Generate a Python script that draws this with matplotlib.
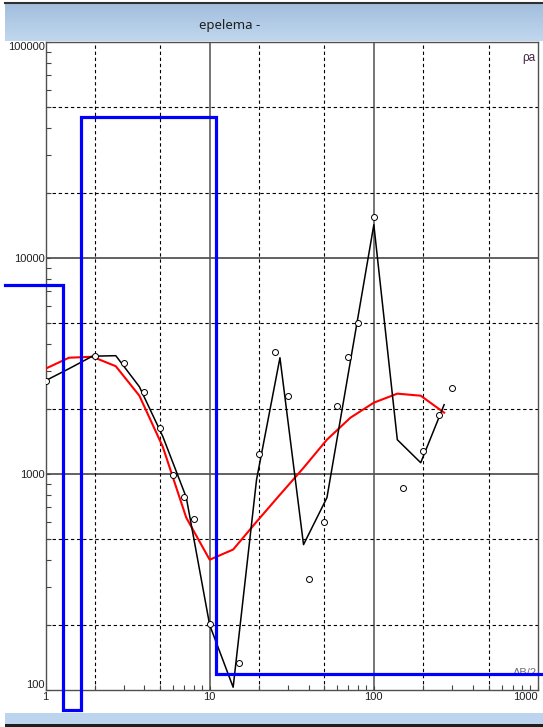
import numpy as np
import matplotlib
matplotlib.use("Agg")
import matplotlib.pyplot as plt
from matplotlib.patches import Rectangle
from matplotlib.ticker import FixedLocator, NullFormatter

# --- data ---
ab2_obs = [1, 2, 3, 4, 5, 6, 7, 8, 10, 15, 20, 25, 30, 40, 50, 60, 70, 80,
           100, 150, 200, 250, 300]
rho_obs = [2704, 3530, 3276, 2404, 1638, 993, 785, 618, 203, 134, 1241, 3683,
           2304, 328, 601, 2071, 3492, 5018, 15530, 864, 1282, 1882, 2509]

ab2_curve = [1.0, 1.39, 1.93, 2.68, 3.73, 5.18, 7.2, 10.0, 13.9, 19.3, 26.8,
             37.3, 51.8, 72.0, 100.0, 139.0, 193.0, 268.0]
rho_smooth = [2704, 3073, 3510, 3530, 2536, 1493, 780, 200, 103, 941, 3454,
              471, 777, 3330, 14260, 1441, 1128, 2093]
rho_model_resp = [3073, 3454, 3490, 3155, 2304, 1337, 628, 401, 447, 601, 802,
                  1068, 1442, 1822, 2139, 2355, 2304, 1923]

# layered model (blue)
layer_rho = [7520, 81, 45000, 119]
layer_bottom = [1.27, 1.645, 10.9]
model_x_start, model_x_end = 0.567, 1066

W, H = 543, 727
fig = plt.figure(figsize=(W / 100, H / 100), dpi=100, facecolor="white")
plt.rcParams["font.family"] = ["Liberation Sans Narrow", "Liberation Sans", "DejaVu Sans"]

def fx(px):
    return px / W

def fy(py):
    return 1 - py / H

# window title bar
bar = fig.add_axes([fx(5), fy(41), 1 - fx(5), (41 - 3) / H])
grad = np.linspace(0, 1, 64).reshape(-1, 1)
bar.imshow(grad, aspect="auto", cmap=matplotlib.colors.LinearSegmentedColormap.from_list(
    "tb", ["#a2bedd", "#c0d7ee"]), extent=[0, 1, 0, 1], origin="upper")
bar.set_axis_off()
fig.add_artist(plt.Line2D([fx(5), 1], [fy(3), fy(3)], color="#303030", lw=1.5))
fig.text(fx(230), fy(26), "epelema -", ha="center", va="center", fontsize=9.5,
         family=["Noto Sans", "DejaVu Sans"], color="#202020")

# bottom strip
fig.add_artist(Rectangle((fx(5), fy(724)), 1 - fx(5), 11 / H, transform=fig.transFigure,
                         facecolor="#bcd4ed", edgecolor="none"))
fig.add_artist(Rectangle((fx(5), 0), 1 - fx(5), 3 / H, transform=fig.transFigure,
                         facecolor="#1e1e1e", edgecolor="none"))

# main axes
left, right, top, bottom = 45.5, 538, 42, 690
ax = fig.add_axes([fx(left), fy(bottom), (right - left) / W, (bottom - top) / H])
ax.set_xscale("log")
ax.set_yscale("log")
ax.set_xlim(1, 1000)
ax.set_ylim(100, 100000)

for d in [10, 100]:
    ax.axvline(d, color="#6a6a6a", lw=1.3, zorder=1)
for d in [1000, 10000]:
    ax.axhline(d, color="#555555", lw=1.3, zorder=1)
for v in [2, 5, 20, 50, 200, 500]:
    ax.axvline(v, color="black", lw=0.8, dashes=(3, 2.5), zorder=1)
for v in [200, 500, 2000, 5000, 20000, 50000]:
    ax.axhline(v, color="black", lw=0.8, dashes=(3, 2.5), zorder=1)

ax.plot(ab2_curve, rho_model_resp, color="#ff0000", lw=1.5, zorder=3)
ax.plot(ab2_curve, rho_smooth, color="black", lw=1.1, zorder=4)
ax.plot(ab2_obs, rho_obs, "o", ms=4.3, mfc="white", mec="black", mew=0.7, zorder=5)

# blue layered model, extends outside the frame
mx = [model_x_start]
my = [layer_rho[0]]
for i, b in enumerate(layer_bottom):
    mx += [b, b]
    my += [layer_rho[i], layer_rho[i + 1]]
mx.append(model_x_end)
my.append(layer_rho[-1])
ax.plot(mx, my, color="#0000ff", lw=2.3, zorder=6, clip_on=False,
        solid_joinstyle="miter")

# ticks
ax.xaxis.set_major_locator(FixedLocator([1, 10, 100, 1000]))
ax.yaxis.set_major_locator(FixedLocator([100, 1000, 10000, 100000]))
ax.set_xticklabels(["1", "10", "100", "1000"])
ax.set_yticklabels(["100", "1000", "10000", "100000"])
minor = [m * 10 ** e for e in range(0, 5) for m in range(2, 10)]
ax.xaxis.set_minor_locator(FixedLocator([v for v in minor if v < 1000]))
ax.yaxis.set_minor_locator(FixedLocator([v for v in minor if 100 < v < 100000]))
ax.xaxis.set_minor_formatter(NullFormatter())
ax.yaxis.set_minor_formatter(NullFormatter())
ax.tick_params(which="both", direction="in", color="#444444", width=0.8,
               labelsize=8, labelcolor="#202020", top=False, right=False)
ax.tick_params(which="major", length=3, pad=1.5)
ax.tick_params(which="minor", length=3.5)
ax.tick_params(axis="y", pad=0.5)
ax.get_yticklabels()[0].set_va("bottom")
ax.get_yticklabels()[-1].set_va("top")
ax.get_xticklabels()[-1].set_ha("right")
for s in ax.spines.values():
    s.set_color("#505050")
    s.set_linewidth(1.0)

ax.text(0.995, 0.975, "ρa", transform=ax.transAxes, ha="right", va="center",
        fontsize=8.5, color="#402040", zorder=2)
ax.text(0.999, 0.027, "AB/2", transform=ax.transAxes, ha="right", va="center",
        fontsize=8, color="#707070", zorder=2)

fig.savefig("out.png", dpi=100, facecolor="white")
